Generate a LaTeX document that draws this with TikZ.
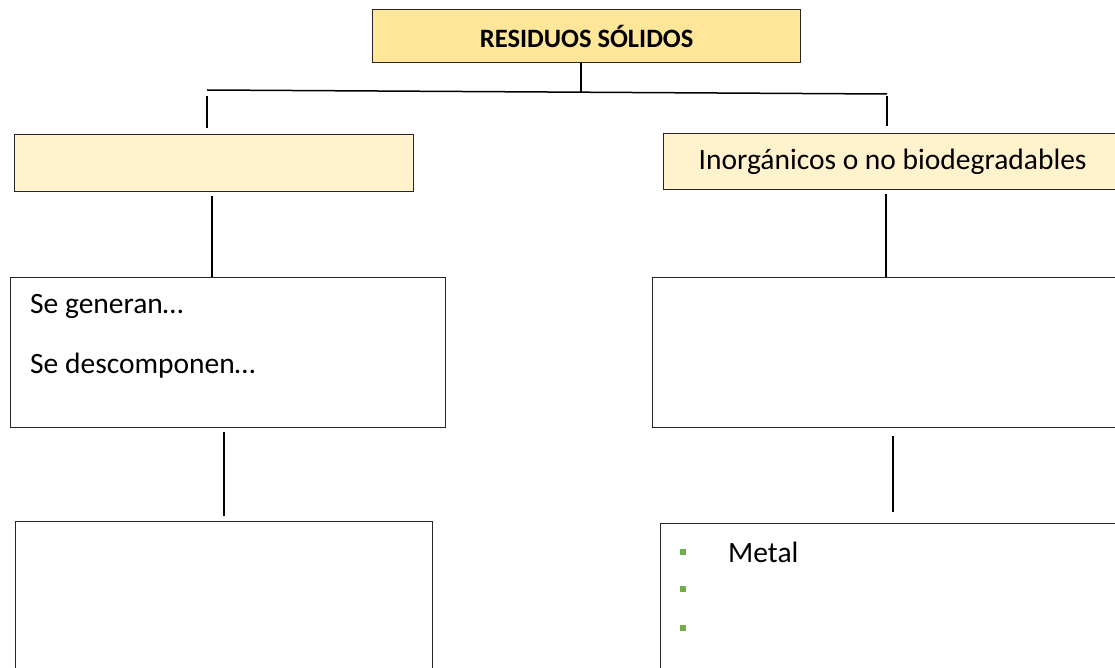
\documentclass[tikz,border=0pt]{standalone}
\usepackage{fontspec}
\setmainfont{Carlito}
\usetikzlibrary{positioning}
\definecolor{goldfill}{HTML}{FFE699}
\definecolor{creamfill}{HTML}{FFF2CC}
\definecolor{bulletgreen}{HTML}{70AD47}
\tikzset{
  box/.style={
    rectangle, anchor=north west, inner sep=0pt,
    draw=black!85, line width=1.3pt
  },
  title/.style={box, fill=goldfill, font=\fontsize{26.5}{31}\selectfont\bfseries},
  kind/.style={box, fill=creamfill, font=\fontsize{29.5}{35}\selectfont},
  txt/.style={anchor=west, inner sep=0pt, font=\fontsize{29.5}{35}\selectfont},
  bullet/.style={fill=bulletgreen, minimum size=6pt, inner sep=0pt},
  link/.style={line width=2.6pt},
  bar/.style={line width=1.5pt}
}

\begin{document}
\begin{tikzpicture}[x=1pt, y=-1pt]
          \useasboundingbox (0,0) rectangle (1115,668);
          \node[title, minimum width=428pt, minimum height=53pt] (root) at (372,9) {RESIDUOS SÓLIDOS};
          \node[kind, minimum width=399pt, minimum height=57pt] (organic) at (14,134) {};
          \node[kind, minimum width=458pt, minimum height=56pt] (inorganic) at (663,133) {Inorgánicos o no biodegradables};

          \node[box, minimum width=435pt, minimum height=150pt] (orgdesc) at (10,277) {};
          \node[box, minimum width=470pt, minimum height=150pt] (inorgdesc) at (652,277) {};
          \node[box, minimum width=417pt, minimum height=200pt] (orglist) at (15,521) {};
          \node[box, minimum width=470pt, minimum height=200pt] (inorglist) at (660,523) {};

          % texto de los cuadros
          \node[txt] (generan) at (30,306) {Se generan…};
          \node[txt] (descomp) at (30,366) {Se descomponen…};
          \node[bullet] (b1) at (683,552) {};
          \node[bullet] (b2) at (683,589) {};
          \node[bullet] (b3) at (683,628) {};
          \node[txt] (metal) at (728,552) {Metal};

          % ramas
          \coordinate (hl) at (207,90);
          \coordinate (hm) at (581,92);
          \coordinate (hr) at (887,94);
          \draw[link] (root.south -| hm) -- (hm);
          \draw[bar] (hl) -- (hr);
          \draw[link] ([yshift=-6pt]hl) -- ([yshift=-38pt]hl);
          \draw[link] ([yshift=-2pt]hr) -- ([yshift=-32pt]hr);

          \draw[link] ([yshift=-4pt]organic.south -| 212,0) -- (orgdesc.north -| 212,0);
          \draw[link] ([yshift=-4pt]inorganic.south -| 886,0) -- (inorgdesc.north -| 886,0);
          \draw[link] ([yshift=-4pt]orgdesc.south -| 224,0) -- ([yshift=5pt]orglist.north -| 224,0);
          \draw[link] ([yshift=-8pt]inorgdesc.south -| 893,0) -- ([yshift=11pt]inorglist.north -| 893,0);
        \end{tikzpicture}
\end{document}
